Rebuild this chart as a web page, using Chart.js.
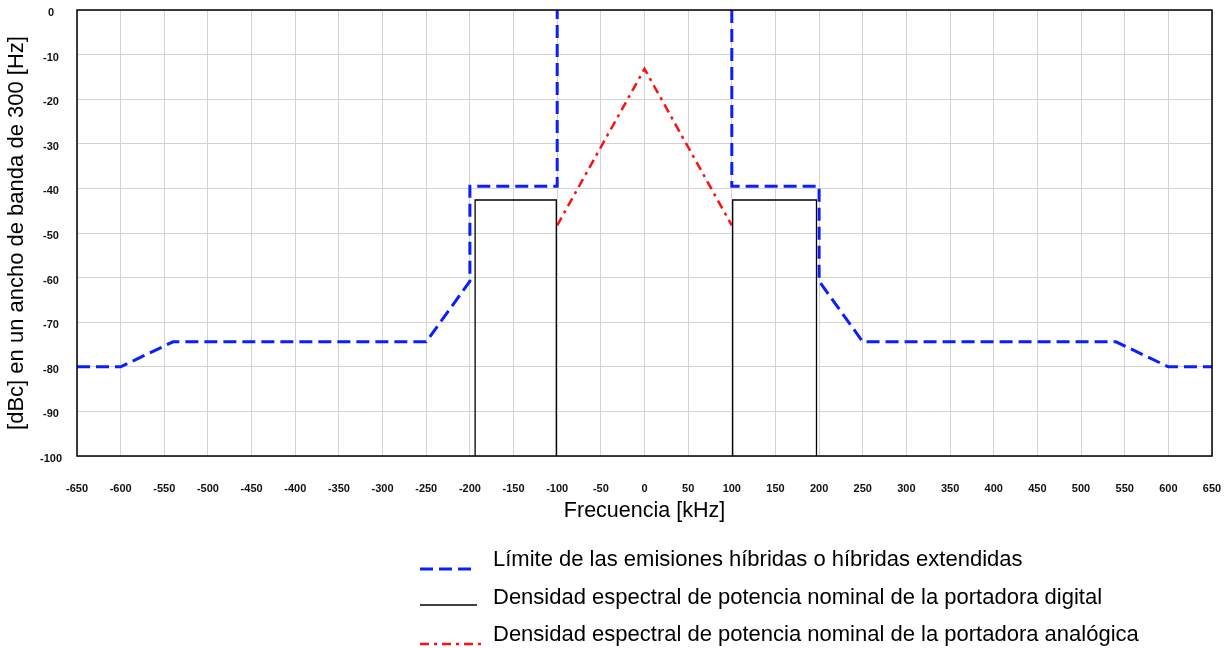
<!DOCTYPE html>
<html><head><meta charset="utf-8">
<script src="https://cdn.jsdelivr.net/npm/chart.js@4.4.1/dist/chart.umd.min.js"></script>
<style>html,body{margin:0;padding:0;background:#fff;}canvas{display:block;}</style>
</head><body>
<canvas id="c" width="1229" height="648"></canvas>
<script>
// ---- data ----
const seriesNames = [
  'Límite de las emisiones híbridas o híbridas extendidas',
  'Densidad espectral de potencia nominal de la portadora digital',
  'Densidad espectral de potencia nominal de la portadora analógica'
];
const xTitle = 'Frecuencia [kHz]';
const yTitle = '[dBc] en un ancho de banda de 300 [Hz]';
const xMin = -650, xMax = 650, xStep = 50;
const yMin = -100, yMax = 0, yStep = 10;

const maskFreq  = [-650, -600, -540, -250, -200, -200, -100, -100, 0,    100, 100, 200, 200, 250, 540, 600, 650];
const maskLevel = [-80,  -80,  -74.4, -74.4, -60.8, -39.5, -39.5, 0, null, 0, -39.5, -39.5, -60.8, -74.4, -74.4, -80, -80];

const digitalFreq  = [-194, -194, -101, -101, 0,    101, 101, 197, 197];
const digitalLevel = [-100, -42.6, -42.6, -100, null, -100, -42.6, -42.6, -100];

const analogFreq  = [-100, 0, 100];
const analogLevel = [-48.3, -13.2, -48.3];

// ---- build ----
const pts = (xs, ys) => xs.map((x, i) => ({x: x, y: ys[i]}));
const FONT = "'Liberation Sans', Arial, sans-serif";

const framePlugin = {
  id: 'frame',
  afterDatasetsDraw(chart) {
    const {ctx, chartArea: a} = chart;
    ctx.save();
    ctx.strokeStyle = '#000';
    ctx.lineWidth = 1.5;
    ctx.strokeRect(a.left, a.top, a.right - a.left, a.bottom - a.top);
    ctx.restore();
  }
};

const legendPlugin = {
  id: 'sideLegend',
  afterDraw(chart) {
    const ctx = chart.ctx;
    const rows = [{ty: 560, sy: 569, x1: 473}, {ty: 598, sy: 605, x1: 477}, {ty: 635, sy: 644, x1: 481}];
    ctx.save();
    chart.data.datasets.forEach((ds, i) => {
      const r = rows[i];
      ctx.beginPath();
      ctx.strokeStyle = ds.borderColor;
      ctx.lineWidth = ds.borderWidth;
      ctx.setLineDash(ds.borderDash || []);
      ctx.moveTo(420, r.sy);
      ctx.lineTo(r.x1, r.sy);
      ctx.stroke();
      ctx.setLineDash([]);
      ctx.fillStyle = '#000';
      ctx.font = '22px ' + FONT;
      ctx.textBaseline = 'middle';
      ctx.textAlign = 'left';
      ctx.fillText(ds.label, 493, r.ty);
    });
    ctx.restore();
  }
};

new Chart(document.getElementById('c'), {
  type: 'scatter',
  data: {
    datasets: [
      {label: seriesNames[0], data: pts(maskFreq, maskLevel), showLine: true, borderColor: '#0a1eff', borderWidth: 3, borderDash: [13, 6], pointRadius: 0, fill: false, spanGaps: false},
      {label: seriesNames[1], data: pts(digitalFreq, digitalLevel), showLine: true, borderColor: '#000000', borderWidth: 1.3, pointRadius: 0, fill: false, spanGaps: false},
      {label: seriesNames[2], data: pts(analogFreq, analogLevel), showLine: true, borderColor: '#ff1010', borderWidth: 2.5, borderDash: [9, 5, 3, 5], pointRadius: 0, fill: false}
    ]
  },
  options: {
    responsive: false,
    animation: false,
    devicePixelRatio: 1,
    layout: {padding: {top: 10, right: 17, left: 0, bottom: 0}},
    plugins: {legend: {display: false}, tooltip: {enabled: false}},
    scales: {
      x: {
        type: 'linear', min: xMin, max: xMax,
        afterFit(s) { s.height = 192; s.paddingLeft = 0; s.paddingRight = 0; },
        ticks: {stepSize: xStep, autoSkip: false, maxRotation: 0, padding: 26, color: '#111', font: {family: FONT, size: 11, weight: 'bold'}},
        grid: {color: '#d3d3d3', lineWidth: 1, drawTicks: false},
        border: {display: false},
        title: {display: true, text: xTitle, color: '#000', font: {family: FONT, size: 21.5}, padding: {top: 0, bottom: 124}}
      },
      y: {
        type: 'linear', min: yMin, max: yMax,
        afterFit(s) { s.width = 77; s.paddingTop = 0; s.paddingBottom = 0; },
        ticks: {stepSize: yStep, autoSkip: false, padding: 15, crossAlign: 'center', labelOffset: 3, color: '#111', font: {family: FONT, size: 11, weight: 'bold'}},
        grid: {color: '#d3d3d3', lineWidth: 1, drawTicks: false},
        border: {display: false},
        title: {display: true, text: yTitle, color: '#000', font: {family: FONT, size: 22}, padding: {top: 4, bottom: 0}}
      }
    }
  },
  plugins: [framePlugin, legendPlugin]
});
</script>
</body></html>
